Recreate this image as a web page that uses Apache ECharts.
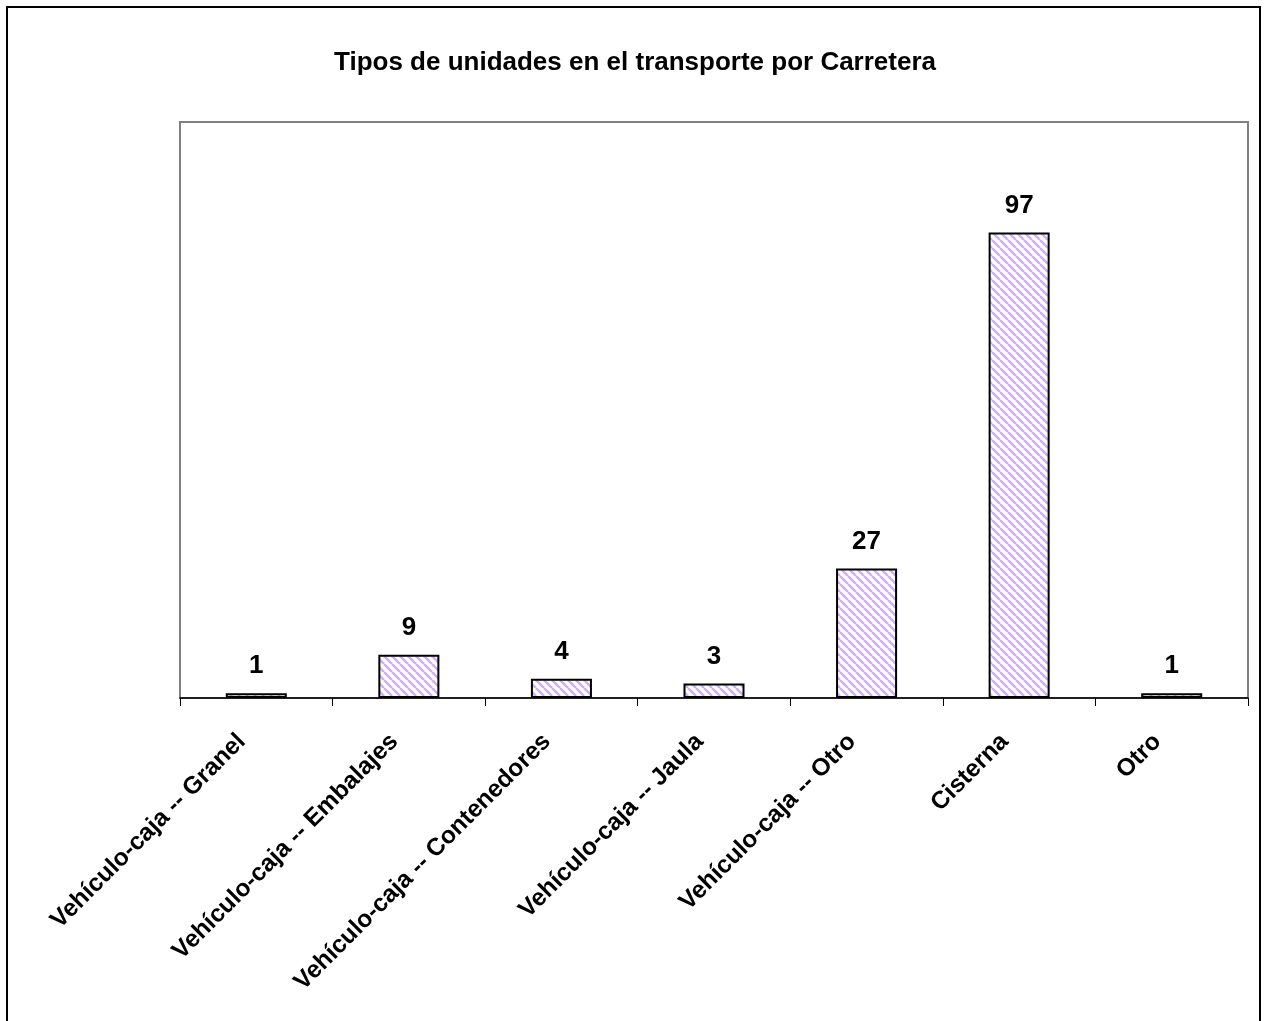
<!DOCTYPE html>
<html>
<head>
<meta charset="utf-8">
<script src="https://cdn.jsdelivr.net/npm/echarts@6/dist/echarts.min.js"></script>
<style>
html,body{margin:0;padding:0;background:#fff;}
#chart{width:1270px;height:1021px;}
</style>
</head>
<body>
<div id="chart"></div>
<script>
const titleText = 'Tipos de unidades en el transporte por Carretera';
const categories = ['Vehículo-caja -- Granel','Vehículo-caja -- Embalajes','Vehículo-caja -- Contenedores','Vehículo-caja -- Jaula','Vehículo-caja -- Otro','Cisterna','Otro'];
const values = [1, 9, 4, 3, 27, 97, 1];

function makePattern(){
  const c = document.createElement('canvas');
  c.width = 8; c.height = 8;
  const ctx = c.getContext('2d');
  ctx.fillStyle = '#ffffff';
  ctx.fillRect(0,0,8,8);
  ctx.strokeStyle = '#d2aefc';
  ctx.lineWidth = 2.6;
  ctx.beginPath();
  for (let k = -8; k <= 16; k += 8) {
    ctx.moveTo(k, 0);
    ctx.lineTo(k + 8, 8);
  }
  ctx.stroke();
  return c;
}

const FONT = 'Liberation Sans, Arial, sans-serif';
const chart = echarts.init(document.getElementById('chart'), null, {renderer:'canvas'});
chart.setOption({
  animation:false,
  backgroundColor:'#ffffff',
  title:{
    text:titleText,
    left:'center',
    top:45,
    textStyle:{fontFamily:FONT,fontWeight:'bold',fontSize:26,color:'#000'}
  },
  graphic:[{
    type:'rect',
    shape:{x:7,y:7,width:1253,height:1040},
    style:{fill:null,stroke:'#000',lineWidth:2},
    silent:true,
    z:-1
  }],
  grid:{
    left:180,right:22,top:122,bottom:323,
    show:true,borderColor:'#808080',borderWidth:2,backgroundColor:'transparent'
  },
  xAxis:{
    type:'category',
    data:categories,
    axisLine:{show:true,lineStyle:{color:'#000',width:1.5}},
    axisTick:{show:true,length:8,lineStyle:{color:'#000',width:1}},
    axisLabel:{
      rotate:45,
      interval:0,
      margin:43,
      verticalAlign:'bottom',
      padding:[0,8,0,0],
      fontFamily:FONT,
      fontWeight:'bold',
      fontSize:24.5,
      color:'#000'
    },
    z:10
  },
  yAxis:{
    type:'value',
    min:0,max:120,
    show:false,
    splitLine:{show:false}
  },
  series:[{
    type:'bar',
    data:values,
    barWidth:'40%',
    itemStyle:{
      color:{image:makePattern(),repeat:'repeat'},
      borderColor:'#000',
      borderWidth:2
    },
    label:{
      show:true,
      position:'top',
      distance:14,
      fontFamily:FONT,
      fontWeight:'bold',
      fontSize:26,
      color:'#000'
    }
  }]
});
</script>
</body>
</html>
